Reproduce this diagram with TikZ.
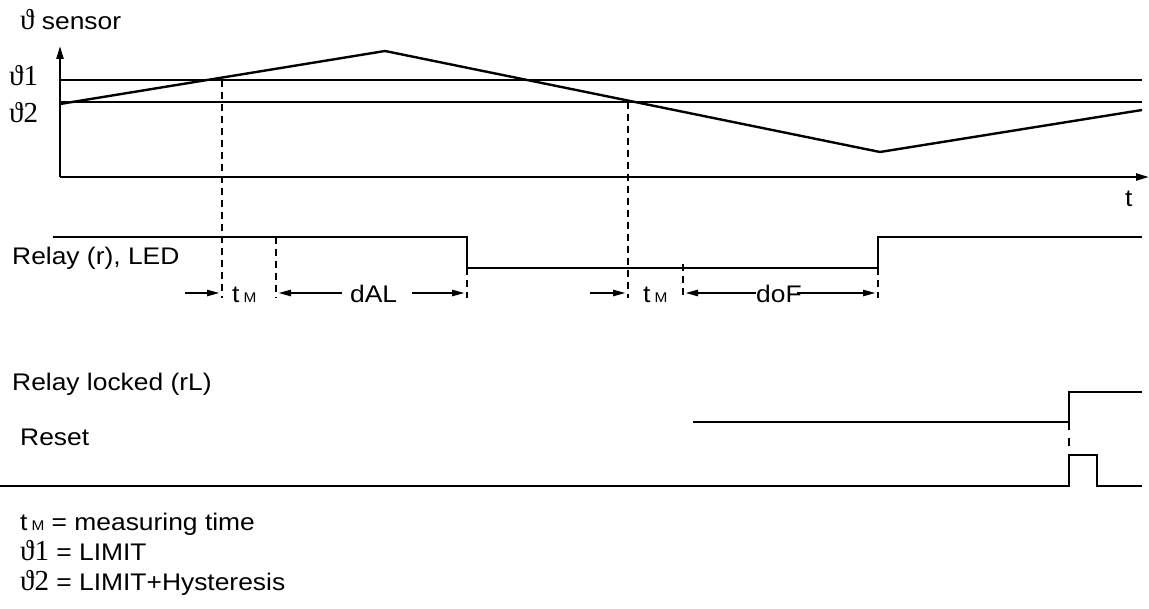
\documentclass[tikz,border=0pt]{standalone}
\usepackage{fontspec}
\setmainfont{Liberation Sans}[FakeStretch=1.1]
\newfontfamily\thetafont{Liberation Serif}
\usetikzlibrary{arrows.meta}
\tikzset{
  sig/.style={line width=2.4pt},
  dsh/.style={line width=2.4pt, dash pattern=on 7pt off 5pt},
  dimarrow/.style={line width=2.4pt, -{Triangle[length=13pt,width=6pt]}},
  axis/.style={line width=2.4pt, -{Triangle[length=13pt,width=7pt]}},
  lbl/.style={anchor=base west, inner sep=0pt, font=\fontsize{24}{28}\selectfont},
  thlbl/.style={anchor=base west, inner sep=0pt, font=\thetafont\fontsize{29}{32}\selectfont},
}
\newcommand{\tMsub}{t\,{\fontsize{14}{14}\selectfont M}}
\newcommand{\thsym}[1]{{\thetafont\fontsize{29}{32}\selectfont ϑ#1}}
\begin{document}
\begin{tikzpicture}[x=1pt,y=-1pt]
\useasboundingbox (0,0) rectangle (1149,609);
% axes
\coordinate (O) at (60,177);
\coordinate (Ytop) at (60,46);
\coordinate (Xend) at (1149,177);
\draw[axis] (O) -- (Ytop);
\draw[axis] (O) -- (Xend);
% thresholds
\coordinate (T1a) at (60,80); \coordinate (T1b) at (1142,80);
\coordinate (T2a) at (60,102); \coordinate (T2b) at (1142,102);
\draw[sig] (T1a) -- (T1b);
\draw[sig] (T2a) -- (T2b);
% temperature curve
\coordinate (C0) at (60,104);
\coordinate (C1) at (385,51);
\coordinate (C2) at (880,152);
\coordinate (C3) at (1142,110);
\draw[sig, line join=round] (C0) -- (C1) -- (C2) -- (C3);
% labels top
\node[lbl] (sens) at (20,30) {\thsym{} sensor};
\node[thlbl] (th1) at (9,86) {ϑ1};
\node[thlbl] (th2) at (9,123) {ϑ2};
\node[lbl] (tlab) at (1125,207) {t};
% relay
\coordinate (R0) at (53,237);
\coordinate (R1) at (467,237);
\coordinate (R2) at (467,268);
\coordinate (R3) at (878,268);
\coordinate (R4) at (878,237);
\coordinate (R5) at (1142,237);
\draw[sig] (R0) -- (R1) -- (R2) -- (R3) -- (R4) -- (R5);
\node[lbl] (relay) at (12,265) {Relay (r), LED};
% dashed markers
\coordinate (D1t) at (222,80);  \coordinate (D1b) at (222,298);
\coordinate (D2t) at (276,237); \coordinate (D2b) at (276,298);
\coordinate (D3t) at (467,268); \coordinate (D3b) at (467,298);
\coordinate (D4t) at (628,102); \coordinate (D4b) at (628,298);
\coordinate (D5t) at (683,264); \coordinate (D5b) at (683,298);
\coordinate (D6t) at (878,268); \coordinate (D6b) at (878,298);
\foreach \i in {1,...,6} { \draw[dsh] (D\i t) -- (D\i b); }
% dimension arrows
\coordinate (A1s) at (185,293); \coordinate (A1e) at (220,293);
\draw[dimarrow] (A1s) -- (A1e);
\node[lbl] (tm1) at (232,303) {\tMsub};
\coordinate (A2s) at (342,293); \coordinate (A2e) at (278,293);
\draw[dimarrow] (A2s) -- (A2e);
\node[lbl] (dal) at (350,303) {dAL};
\coordinate (A3s) at (412,293); \coordinate (A3e) at (465,293);
\draw[dimarrow] (A3s) -- (A3e);
\coordinate (A4s) at (590,293); \coordinate (A4e) at (626,293);
\draw[dimarrow] (A4s) -- (A4e);
\node[lbl] (tm2) at (643,303) {\tMsub};
\node[lbl] (dof) at (756,303) {doF};
\coordinate (A5s) at (756,293); \coordinate (A5e) at (685,293);
\draw[dimarrow] (A5s) -- (A5e);
\coordinate (A6s) at (797,293); \coordinate (A6e) at (876,293);
\draw[dimarrow] (A6s) -- (A6e);
% relay locked
\node[lbl] (rl) at (12,391) {Relay locked (rL)};
\coordinate (L0) at (693,422);
\coordinate (L1) at (1069,422);
\coordinate (L2) at (1069,392);
\coordinate (L3) at (1142,392);
\draw[sig] (L0) -- (L1) -- (L2) -- (L3);
\coordinate (Ld) at (1069,455);
\draw[dsh, dash pattern=on 8pt off 8pt] (L1) -- (Ld);
% reset
\node[lbl] (rst) at (20,446) {Reset};
\coordinate (S0) at (0,486);
\coordinate (S1) at (1069,486);
\coordinate (S2) at (1069,455);
\coordinate (S3) at (1097,455);
\coordinate (S4) at (1097,486);
\coordinate (S5) at (1142,486);
\draw[sig] (S0) -- (S1) -- (S2) -- (S3) -- (S4) -- (S5);
% legend
\node[lbl] (leg1) at (20,530) {\tMsub{} = measuring time};
\node[lbl] (leg2) at (20,560) {\thsym{1} = LIMIT};
\node[lbl] (leg3) at (20,590) {\thsym{2} = LIMIT+Hysteresis};
\end{tikzpicture}
\end{document}
